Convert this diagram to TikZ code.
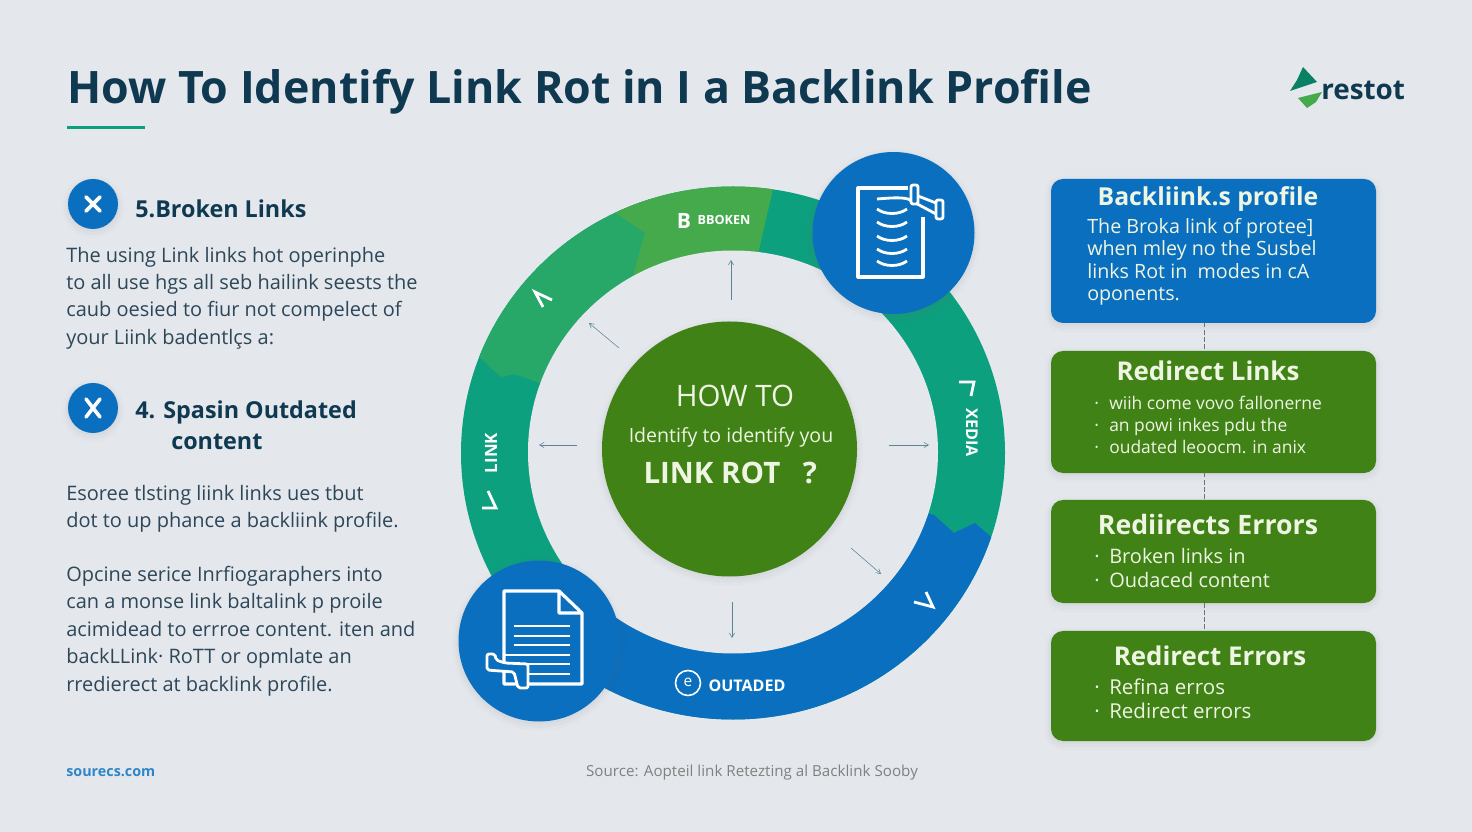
\documentclass[tikz,border=0pt]{standalone}
\usepackage{fontspec}
\setmainfont{Open Sans}
\usepackage{tikz}
\usetikzlibrary{arrows,positioning}
\usepackage{xcolor}
\definecolor{rotbg}{RGB}{228,232,237}
\definecolor{rotnavy}{RGB}{15,57,80}
\definecolor{rotbody}{RGB}{45,70,88}
\definecolor{rotblue}{RGB}{10,111,190}
\definecolor{rotgreen}{RGB}{64,130,22}
\definecolor{rotteal}{RGB}{13,160,126}
\definecolor{rotmid}{RGB}{40,168,104}
\definecolor{rotlight}{RGB}{68,170,76}
\definecolor{rotcream}{RGB}{238,245,226}
\definecolor{rotarrow}{RGB}{92,132,150}
\tikzstyle{softshadow} = [preaction={draw=black!60,fill=none,line width=9pt,opacity=.025,transform canvas={yshift=-2pt}},preaction={draw=black!60,fill=none,line width=5pt,opacity=.035,transform canvas={yshift=-2pt}},preaction={draw=black!60,fill=none,line width=2pt,opacity=.04,transform canvas={yshift=-1pt}}]
\tikzstyle{card} = [rectangle, rounded corners=3mm, minimum width=81.25mm, softshadow, inner sep=0pt]
\tikzstyle{disc} = [circle, inner sep=0pt, fill=rotblue, softshadow]
\tikzstyle{cardtitle} = [inner sep=0pt, text=rotcream, font=\fontsize{18.4}{22}\selectfont\bfseries]
\tikzstyle{cardtext} = [anchor=west, inner sep=0pt, align=left, text=rotcream]
\tikzstyle{lefthead} = [anchor=west, inner sep=0pt, text=rotnavy, font=\fontsize{16.6}{22}\selectfont\bfseries]
\tikzstyle{lefttext} = [anchor=west, inner sep=0pt, align=left, text=rotbody, font=\fontsize{14.2}{19.5}\selectfont]
\tikzstyle{ringlabel} = [inner sep=0pt, text=white, font=\fontsize{9}{10}\selectfont\bfseries]
\tikzstyle{linkarrow} = [thin,->,>=angle 60,color=rotarrow]
\tikzstyle{gap} = [thin,densely dashed,color=black!55]
\tikzstyle{glyph} = [white, line width=.9mm, line cap=round]
\tikzstyle{icon} = [white, line width=.8mm, line join=round]
\tikzstyle{iconthin} = [white, line width=.7mm, line join=round]
\newcommand{\bul}{\makebox[3.75mm][l]{·}}
\begin{document}
\begin{tikzpicture}[x=0.25mm,y=-0.25mm]
\useasboundingbox[fill=rotbg] (0,0) rectangle (1472,832);

% Title and logo
\node[anchor=west, inner sep=0pt, text=rotnavy, font=\fontsize{31.8}{40}\selectfont\bfseries] (title) at (67,92) {How To Identify Link Rot in I a Backlink Profile};
\coordinate (ruleleft) at (67,128);
\coordinate (ruleright) at (145,128);
\draw[rotteal, line width=.75mm] (ruleleft) -- (ruleright);
\fill[rotteal!80!black] (1303,67) -- (1317,82) -- (1290,91) -- (1297,80) -- cycle;
\fill[rotlight] (1322,92) -- (1298,98) -- (1307,108) -- (1316,102) -- cycle;
\node[anchor=west, inner sep=0pt, text=rotnavy, font=\fontsize{19.8}{24}\selectfont\bfseries] (logo) at (1321,90) {restot};

% Left column
\node[disc, minimum size=12.5mm] (iconA) at (93,204) {};
\draw[glyph] (86,197) -- (100,211);
\draw[glyph] (100,197) -- (86,211);
\node[lefthead] (headA) at (135,209) {5.Broken Links};
\node[lefttext] (textA) at (66,298) {
The using Link links hot operinphe\\
to all use hgs all seb hailink seests the\\
caub oesied to fiur not compelect of\\
your Liink badentlçs a:
};
\node[disc, minimum size=12.5mm] (iconB) at (93,408) {};
\draw[glyph] (86,417) -- (100,399);
\draw[glyph] (86,399) -- (100,417);
\node[lefthead] (headB) at (135,412) {4. Spasin Outdated};
\node[lefthead] (headC) at (171,442) {content};
\node[lefttext] (textB) at (66,509) {
Esoree tlsting liink links ues tbut\\
dot to up phance a backliink profile.
};
\node[lefttext] (textC) at (66,631) {
Opcine serice Inrfiogaraphers into\\
can a monse link baltalink p proile\\
acimidead to errroe content. iten and\\
backLLink· RoTT or opmlate an\\
rredierect at backlink profile.
};
\node[anchor=west, inner sep=0pt, text=rotblue!85!white, font=\fontsize{10.2}{12}\selectfont\bfseries] (srcleft) at (66,773) {sourecs.com};
\node[inner sep=0pt, text=black!50, font=\fontsize{10.8}{12}\selectfont] (srcmid) at (752,773) {Source: Aopteil link Retezting al Backlink Sooby};

% Ring
\begin{scope}
\clip (733,453) ellipse [x radius=272, y radius=266.5];
\fill[rotteal] (440,160) rectangle (1030,740);
\fill[rotmid] (560,390) -- (537,382) -- (514,374) -- (501,377) -- (479,357) -- (440,340) -- (440,130) -- (650,130) -- (650,330) -- cycle;
\fill[rotlight] (600,150) -- (605,203) -- (617,214) -- (645,233) -- (634,272) -- (640,330) -- (745,330) -- (759,250) -- (773,189) -- (780,150) -- cycle;
\fill[rotblue] (880,500) -- (934,515) -- (954,533) -- (975,523) -- (991,537) -- (1050,560) -- (1050,800) -- (540,800) -- (540,640) -- (590,570) -- (700,560) -- cycle;
\end{scope}
\fill[rotbg] (733,452) ellipse [x radius=205, y radius=201.5];

% Arrows from the centre
\coordinate (upA) at (731,300);
\coordinate (upB) at (731,260);
\coordinate (nwA) at (619,348);
\coordinate (nwB) at (589,323);
\coordinate (leftA) at (577,445);
\coordinate (leftB) at (539,445);
\coordinate (rightA) at (889,445);
\coordinate (rightB) at (929,445);
\coordinate (seA) at (851,548);
\coordinate (seB) at (881,574);
\coordinate (downA) at (732,602);
\coordinate (downB) at (732,638);
\foreach \a/\b in {upA/upB,nwA/nwB,leftA/leftB,rightA/rightB,seA/seB,downA/downB}
  \draw[linkarrow] (\a) -- (\b);

% Ring labels
\node[ringlabel, font=\fontsize{15}{16}\selectfont\bfseries] (labelB) at (684,221) {B};
\node[ringlabel] (labelBroken) at (724,220) {BBOKEN};
\node[ringlabel, font=\fontsize{11.4}{13}\selectfont\bfseries] (labelOut) at (747,686) {OUTADED};
\draw[white, line width=.4mm] (688,683) circle (12.5);
\node[ringlabel, font=\fontsize{11}{12}\selectfont] (labelE) at (688,682) {e};
\node[ringlabel, rotate=90, font=\fontsize{12}{14}\selectfont\bfseries] (labelLink) at (491,453) {LINK};
\node[ringlabel, rotate=-90, font=\fontsize{11.5}{13}\selectfont\bfseries] (labelMedia) at (972,433) {XEDIA};
\draw[white, line width=.7mm, line join=miter] (552,300) -- (535,292) -- (543,307);
\draw[white, line width=.7mm] (482,508) -- (496,508) -- (488,491);
\draw[white, line width=.7mm] (959,382) -- (974,382) -- (971,396);
\draw[white, line width=.7mm] (914,602) -- (933,607) -- (926,592);

% Centre disc
\node[circle, fill=rotgreen, minimum size=63.75mm, inner sep=0pt, softshadow] (hub) at (729.5,449) {};
\node[inner sep=0pt, text=rotcream, font=\fontsize{21}{24}\selectfont] (howto) at (735,396) {HOW TO};
\node[inner sep=0pt, text=rotcream, font=\fontsize{13.9}{16}\selectfont] (identify) at (731,437) {Identify to identify you};
\node[inner sep=0pt, text=rotcream, font=\fontsize{21}{24}\selectfont\bfseries] (linkrot) at (712,473) {LINK ROT};
\node[inner sep=0pt, text=rotcream, font=\fontsize{21}{24}\selectfont\bfseries] (qmark) at (810,473) {?};

% Top right document
\node[disc, minimum size=40.5mm] (discA) at (893.5,233) {};
\draw[icon] (908,188) -- (858,188) -- (858,277) -- (923,277) -- (923,217);
\foreach \y in {211,224,238,251,263}
  \draw[iconthin] (877,\y-2) .. controls (885,\y+4) and (899,\y+4) .. (907,\y-2);
\draw[iconthin] (877,199) .. controls (890,198) and (900,197) .. (908,199) -- (936,214);
\draw[iconthin] (918,196) -- (936,203);
\draw[iconthin, rounded corners=.5mm, fill=rotblue] (911,185) rectangle (918,204);
\draw[iconthin, rounded corners=.5mm, fill=rotblue] (936,200) rectangle (943,219);

% Bottom left document
\node[disc, minimum size=40.25mm] (discB) at (539,641) {};
\draw[icon] (559,591) -- (504,591) -- (504,684) -- (582,684) -- (582,613) -- (559,591) -- (559,613) -- (582,613);
\foreach \y in {626,636,645}
  \draw[iconthin] (514,\y) -- (570,\y);
\draw[iconthin] (504,655) -- (570,655);
\draw[iconthin] (527,664) -- (570,664);
\draw[iconthin] (527,674) -- (570,674);
\draw[iconthin, fill=rotblue, rounded corners=.5mm] (487,654) -- (487,670) -- (500,671) -- (514,672) -- (518,688) -- (528,688) -- (528,664) -- (505,663) -- (496,660) -- (495,654) -- cycle;

% Cards on the right
\node[card, fill=rotblue, minimum height=36mm] (cardA) at (1213.5,251) {};
\node[card, fill=rotgreen, minimum height=30.5mm] (cardB) at (1213.5,412) {};
\node[card, fill=rotgreen, minimum height=25.75mm] (cardC) at (1213.5,551.5) {};
\node[card, fill=rotgreen, minimum height=27.5mm] (cardD) at (1213.5,686) {};
\node[cardtitle, font=\fontsize{17.6}{22}\selectfont\bfseries] (titleA) at (1208,199) {Backliink.s profile};
\node[cardtext, font=\fontsize{14}{15.9}\selectfont] (bodyA) at (1087,262) {
The Broka link of protee]\\
when mley no the Susbel\\
links Rot in\ \ modes in cA\\
oponents.
};
\node[cardtitle] (titleB) at (1208,371) {Redirect Links};
\node[cardtext, font=\fontsize{12.4}{15.7}\selectfont] (bodyB) at (1094,425) {
\bul wiih come vovo fallonerne\\
\bul an powi inkes pdu the\\
\bul oudated leoocm. in anix
};
\node[cardtitle, font=\fontsize{19}{22}\selectfont\bfseries] (titleC) at (1208,524) {Rediirects Errors};
\node[cardtext, font=\fontsize{14.2}{16.5}\selectfont] (bodyC) at (1094,568) {
\bul Broken links in\\
\bul Oudaced content
};
\node[cardtitle] (titleD) at (1210,656) {Redirect Errors};
\node[cardtext, font=\fontsize{14.6}{17}\selectfont] (bodyD) at (1094,699) {
\bul Refina erros\\
\bul Redirect errors
};

% Gaps between cards
\coordinate (gapx) at (1204,0);
\draw[gap] (gapx |- cardA.south) -- (gapx |- cardB.north);
\draw[gap] (gapx |- cardB.south) -- (gapx |- cardC.north);
\draw[gap] (gapx |- cardC.south) -- (gapx |- cardD.north);
\end{tikzpicture}
\end{document}
